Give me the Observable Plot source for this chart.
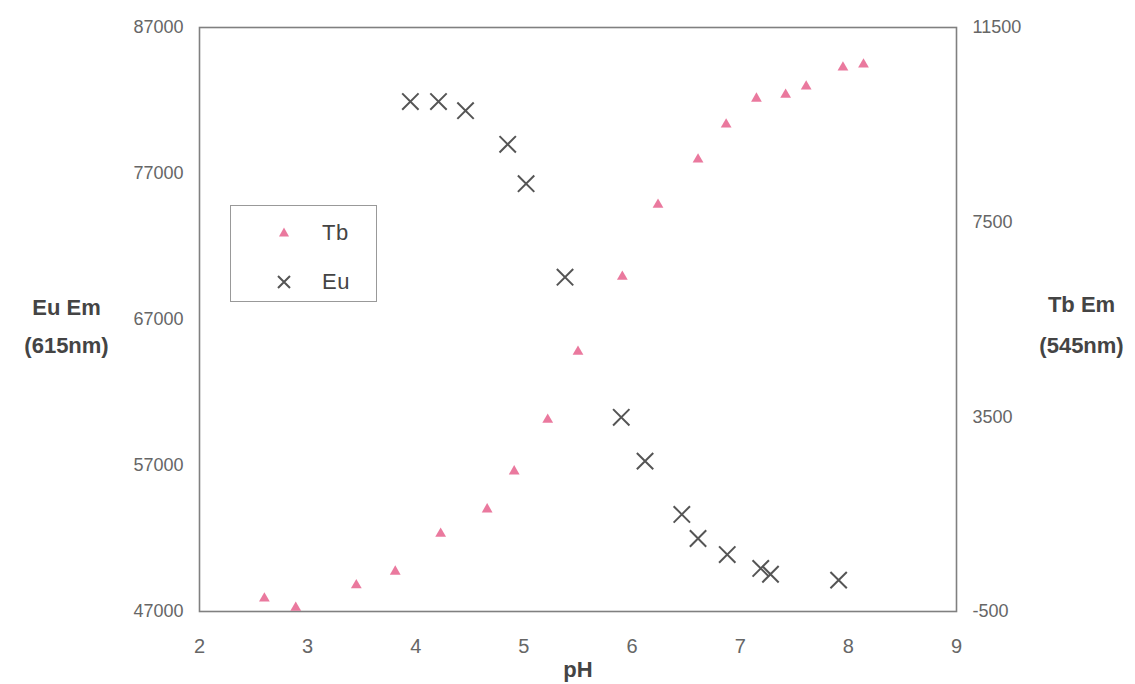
<!DOCTYPE html>
<html>
<head>
<meta charset="utf-8">
<script src="https://cdn.jsdelivr.net/npm/d3@7"></script>
<script src="https://cdn.jsdelivr.net/npm/@observablehq/plot@0.6"></script>
<style>
  html, body { margin: 0; padding: 0; background: #fff; }
  #wrap { position: relative; width: 1135px; height: 684px; overflow: hidden; font-family: "Liberation Sans", Arial, sans-serif; }
  #legend { position: absolute; left: 230px; top: 205px; width: 145px; height: 95px; border: 1.5px solid #999; background: #fff; }
  .lg-row { position: absolute; left: 0; width: 145px; height: 30px; }
  .lg-row svg { position: absolute; left: 42px; top: 4px; }
  .lg-row span { position: absolute; left: 91px; top: 2px; font-size: 22px; color: #444; letter-spacing: 0.5px; }
</style>
</head>
<body>
<div id="wrap">
  <div id="chart"></div>
  <div id="legend">
    <div class="lg-row" style="top:12px"><svg width="22" height="22"><path d="M11,5.5 L16,14.5 L6,14.5 Z" fill="#e6628d" opacity="0.85"/></svg><span>Tb</span></div>
    <div class="lg-row" style="top:61px"><svg width="22" height="22"><path d="M5,5 L17,17 M5,17 L17,5" stroke="#555" stroke-width="2"/></svg><span>Eu</span></div>
  </div>
</div>
<script>
// ---- data ----
const euPH = [3.95, 4.21, 4.46, 4.85, 5.02, 5.38, 5.90, 6.12, 6.46, 6.61, 6.88, 7.19, 7.28, 7.91];
const euEm = [81930, 81930, 81300, 79000, 76300, 69900, 60300, 57300, 53650, 52000, 50900, 49950, 49550, 49150];

const tbPH = [2.60, 2.89, 3.45, 3.81, 4.23, 4.66, 4.91, 5.22, 5.50, 5.91, 6.24, 6.61, 6.87, 7.15, 7.42, 7.61, 7.95, 8.14];
const tbEm = [-230, -420, 40, 320, 1100, 1600, 2380, 3440, 4840, 6380, 7860, 8790, 9510, 10040, 10120, 10290, 10680, 10740];

const xTicks = [2, 3, 4, 5, 6, 7, 8, 9];
const leftTicks = [47000, 57000, 67000, 77000, 87000];
const rightTicks = [-500, 3500, 7500, 11500];

const leftDomain = [47000, 87000];
const rightDomain = [-500, 11500];

// map right-axis (Tb) values onto the left-axis scale
const toLeft = v => leftDomain[0] + (v - rightDomain[0]) * (leftDomain[1] - leftDomain[0]) / (rightDomain[1] - rightDomain[0]);
const fromLeft = v => rightDomain[0] + (v - leftDomain[0]) * (rightDomain[1] - rightDomain[0]) / (leftDomain[1] - leftDomain[0]);

const eu = euPH.map((x, i) => ({x, y: euEm[i]}));
const tb = tbPH.map((x, i) => ({x, y: toLeft(tbEm[i])}));

const chart = Plot.plot({
  width: 1135,
  height: 684,
  marginLeft: 199,
  marginRight: 179,
  marginTop: 27,
  marginBottom: 73,
  style: { fontFamily: "'Liberation Sans', Arial, sans-serif", background: "#fff", color: "#555" },
  x: { domain: [2, 9] },
  y: { domain: leftDomain },
  marks: [
    Plot.frame({ stroke: "#808080", strokeWidth: 1.6 }),
    Plot.axisX({ ticks: xTicks, tickSize: 0, tickPadding: 27, fontSize: 20, label: null, fill: "#666", tickFormat: d => String(d) }),
    Plot.axisY({ anchor: "left", ticks: leftTicks, tickSize: 0, tickPadding: 16, fontSize: 18, label: null, fill: "#666", tickFormat: d => String(d) }),
    Plot.axisY({ anchor: "right", ticks: rightTicks.map(toLeft), tickSize: 0, tickPadding: 16, fontSize: 18, label: null, fill: "#666", tickFormat: d => String(Math.round(fromLeft(d))) }),
    Plot.dot(tb, { x: "x", y: "y", symbol: "triangle", r: 4, fill: "#e6628d", fillOpacity: 0.85 }),
    Plot.dot(eu, { x: "x", y: "y", symbol: "times", r: 7.5, stroke: "#555", strokeWidth: 2 }),
    Plot.text(["Eu Em\n(615nm)"], { frameAnchor: "left", dx: -133, dy: 2, textAnchor: "middle", fontSize: 22, fontWeight: "bold", fill: "#444", lineHeight: 1.75 }),
    Plot.text(["Tb Em\n(545nm)"], { frameAnchor: "right", dx: 125, dy: 0, textAnchor: "middle", fontSize: 22, fontWeight: "bold", fill: "#444", lineHeight: 1.85 }),
    Plot.text(["pH"], { frameAnchor: "bottom", dy: 58, textAnchor: "middle", lineAnchor: "middle", fontSize: 22, fontWeight: "bold", fill: "#444" })
  ]
});
document.getElementById("chart").appendChild(chart);
</script>
</body>
</html>
